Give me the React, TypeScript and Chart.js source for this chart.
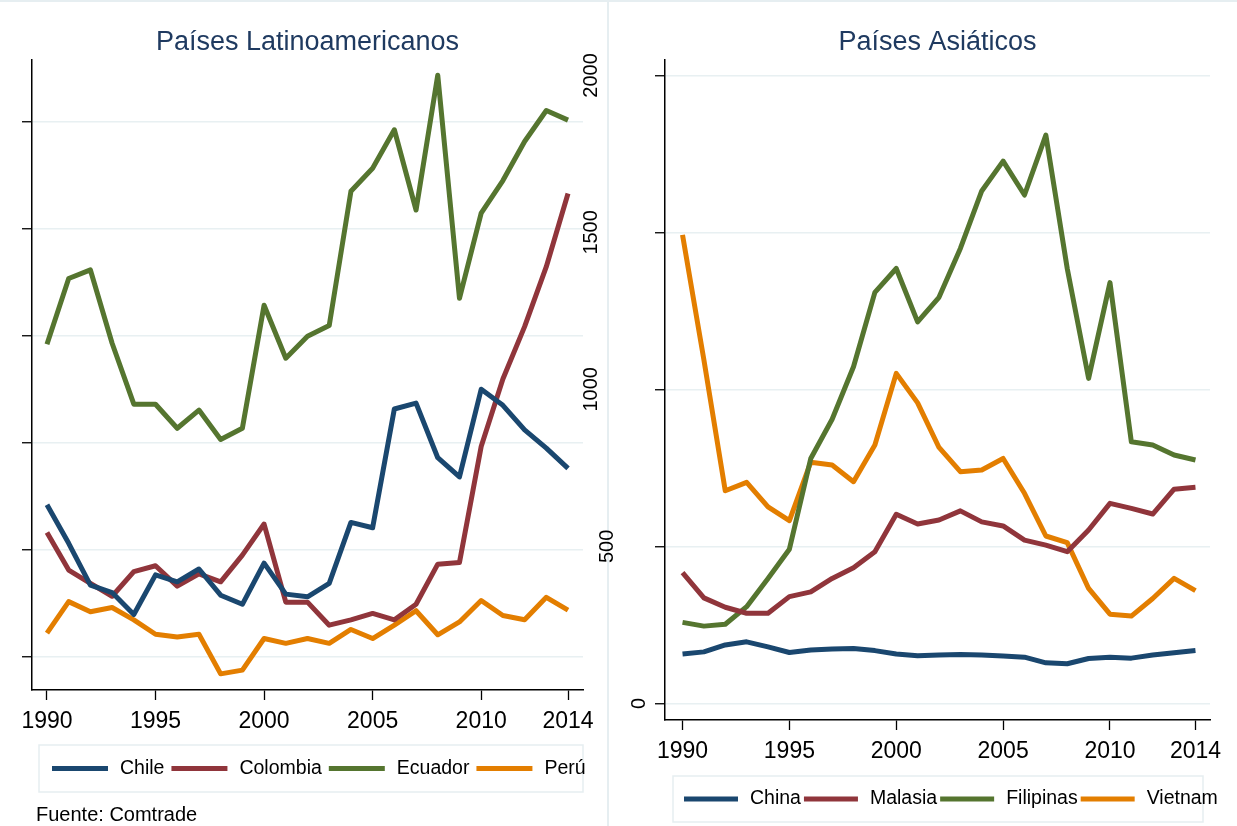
import React, { useEffect, useRef } from "react";
import { Chart, registerables } from "chart.js";

Chart.register(...registerables);

// ---------------- DATA ----------------
const years = [
  1990, 1991, 1992, 1993, 1994, 1995, 1996, 1997, 1998, 1999, 2000, 2001, 2002,
  2003, 2004, 2005, 2006, 2007, 2008, 2009, 2010, 2011, 2012, 2013, 2014,
];

// Países Latinoamericanos (left panel, unlabeled axis)
const chile = [484, 412, 334, 320, 279, 353, 340, 364, 315, 298, 375, 317, 312, 337, 451, 441, 663, 674, 572, 536, 700, 670, 624, 590, 552];
const colombia = [432, 362, 337, 313, 359, 370, 332, 355, 340, 390, 448, 302, 302, 259, 269, 281, 269, 298, 373, 376, 593, 719, 817, 929, 1066];
const ecuador = [784, 907, 923, 786, 672, 672, 627, 661, 606, 627, 857, 758, 799, 819, 1070, 1113, 1185, 1035, 1287, 870, 1029, 1090, 1163, 1221, 1203];
const peru = [244, 303, 284, 292, 269, 242, 237, 242, 168, 175, 234, 225, 234, 225, 251, 234, 259, 286, 241, 265, 305, 277, 269, 311, 287];

// Países Asiáticos (right panel)
const china = [157, 164, 186, 196, 180, 162, 170, 173, 175, 168, 157, 152, 154, 156, 154, 151, 147, 129, 126, 143, 147, 144, 154, 161, 168];
const malasia = [416, 336, 306, 287, 287, 340, 355, 398, 432, 483, 602, 571, 584, 613, 578, 565, 520, 504, 483, 552, 637, 621, 603, 682, 688];
const filipinas = [258, 246, 252, 308, 398, 491, 780, 905, 1072, 1309, 1385, 1215, 1293, 1449, 1632, 1727, 1619, 1810, 1385, 1035, 1340, 833, 823, 791, 775];
const vietnam = [1492, 1094, 677, 704, 626, 582, 768, 759, 706, 823, 1051, 957, 815, 738, 743, 780, 669, 533, 512, 366, 284, 278, 334, 398, 359];

const xTickYears = [1990, 1995, 2000, 2005, 2010, 2014];
const latamYTicks = [200, 400, 600, 800, 1000, 1200];
const asiaYTicks = [0, 500, 1000, 1500, 2000];

const latamNames = ["Chile", "Colombia", "Ecuador", "Perú"];
const asiaNames = ["China", "Malasia", "Filipinas", "Vietnam"];
const latamTitle = "Países Latinoamericanos";
const asiaTitle = "Países Asiáticos";
const sourceNote = "Fuente: Comtrade";

// ---------------- STYLE ----------------
const COLORS = ["#1a476f", "#90353b", "#55752f", "#e37e00"];
const FONT = '"Liberation Sans", Arial, Helvetica, sans-serif';
const TITLE_COLOR = "#1f3a60";
const GRID_COLOR = "#e8f0f2";
const FRAME_COLOR = "#e6eef1";

type PanelSpec = {
  names: string[];
  series: number[][];
  yTicks: number[];
  yMin: number;
  yMax: number;
  xMin: number;
  xMax: number;
  title: string;
  left: number;
  width: number;
  padding: { left: number; right: number; top: number; bottom: number };
  yWidth: number;
  legendBox: { x: number; y: number; w: number; h: number };
  legendInset: number;
  legendSwatch: number;
  legendGap: number;
  showYLabels: boolean;
  note?: { text: string; x: number; y: number };
};

function makeDecorPlugin(spec: PanelSpec) {
  return {
    id: "decor",
    afterDraw(chart: any) {
      const ctx = chart.ctx as CanvasRenderingContext2D;
      ctx.save();
      // legend frame
      const b = spec.legendBox;
      ctx.strokeStyle = FRAME_COLOR;
      ctx.lineWidth = 1.5;
      ctx.strokeRect(b.x, b.y, b.w, b.h);
      const cy = b.y + b.h / 2;
      ctx.font = `19.5px ${FONT}`;
      ctx.textBaseline = "middle";
      ctx.textAlign = "left";
      let x = b.x + spec.legendInset;
      chart.data.datasets.forEach((ds: any) => {
        ctx.strokeStyle = ds.borderColor;
        ctx.lineWidth = 5;
        ctx.lineCap = "butt";
        ctx.beginPath();
        ctx.moveTo(x, cy);
        ctx.lineTo(x + spec.legendSwatch, cy);
        ctx.stroke();
        x += spec.legendSwatch + 12;
        ctx.fillStyle = "#000";
        ctx.fillText(ds.label, x, cy);
        x += ctx.measureText(ds.label).width + spec.legendGap;
      });

      // rotated y labels
      if (spec.showYLabels) {
        const yScale = chart.scales.y;
        const axisX = chart.chartArea.left;
        ctx.font = `20px ${FONT}`;
        ctx.fillStyle = "#000";
        ctx.textAlign = "center";
        ctx.textBaseline = "alphabetic";
        yScale.ticks.forEach((t: any) => {
          const label = String(t.value);
          const w = ctx.measureText(label).width;
          const py = yScale.getPixelForValue(t.value);
          const bx = axisX - 4 - 1.44 * w;
          ctx.save();
          ctx.translate(bx, py);
          ctx.rotate(-Math.PI / 2);
          ctx.fillText(label, 0, 0);
          ctx.restore();
        });
      }

      if (spec.note) {
        ctx.font = `20px ${FONT}`;
        ctx.fillStyle = "#000";
        ctx.textAlign = "left";
        ctx.textBaseline = "middle";
        ctx.fillText(spec.note.text, spec.note.x, spec.note.y);
      }
      ctx.restore();
    },
  };
}

function Panel({ spec }: { spec: PanelSpec }) {
  const ref = useRef<HTMLCanvasElement | null>(null);
  useEffect(() => {
    if (!ref.current) return;
    const chart = new Chart(ref.current, {
      type: "line",
      data: {
        datasets: spec.series.map((s, i) => ({
          label: spec.names[i],
          data: years.map((yr, j) => ({ x: yr, y: s[j] })),
          borderColor: COLORS[i],
          backgroundColor: COLORS[i],
          borderWidth: 5,
          pointRadius: 0,
          pointHoverRadius: 0,
          borderJoinStyle: "round",
          tension: 0,
          fill: false,
        })),
      },
      options: {
        responsive: false,
        animation: false,
        devicePixelRatio: 1,
        events: [],
        layout: { padding: spec.padding },
        plugins: {
          legend: { display: false },
          tooltip: { enabled: false },
          title: {
            display: true,
            text: spec.title,
            color: TITLE_COLOR,
            font: { family: FONT, size: 27, weight: "normal", lineHeight: "30px" },
            padding: { top: 28, bottom: 2 },
            fullSize: false,
          },
        },
        scales: {
          x: {
            type: "linear",
            min: spec.xMin,
            max: spec.xMax,
            afterBuildTicks: (s: any) => {
              s.ticks = xTickYears.map((v) => ({ value: v }));
            },
            afterFit: (s: any) => {
              s.height = 40;
            },
            grid: {
              drawOnChartArea: false,
              drawTicks: true,
              tickLength: 10,
              tickColor: "#000",
              tickWidth: 1.3,
            },
            border: { display: true, color: "#000", width: 1.5 },
            ticks: {
              autoSkip: false,
              maxRotation: 0,
              minRotation: 0,
              padding: 8,
              color: "#000",
              font: { family: FONT, size: 23 },
              callback: (v: any) => String(v),
            },
          },
          y: {
            type: "linear",
            min: spec.yMin,
            max: spec.yMax,
            afterBuildTicks: (s: any) => {
              s.ticks = spec.yTicks.map((v) => ({ value: v }));
            },
            afterFit: (s: any) => {
              s.width = spec.yWidth;
            },
            grid: {
              color: GRID_COLOR,
              lineWidth: 1.5,
              drawTicks: true,
              tickLength: 10,
              tickColor: "#000",
              tickWidth: 1.3,
            },
            border: { display: true, color: "#000", width: 1.5 },
            ticks: { display: false },
          },
        },
      } as any,
      plugins: [makeDecorPlugin(spec)],
    });
    return () => chart.destroy();
  }, [spec]);

  return (
    <canvas
      ref={ref}
      width={spec.width}
      height={826}
      style={{ position: "absolute", left: spec.left, top: 0, width: spec.width, height: 826, display: "block" }}
    />
  );
}

const latamSpec: PanelSpec = {
  names: latamNames,
  series: [chile, colombia, ecuador, peru],
  yTicks: latamYTicks,
  yMin: 137.8,
  yMax: 1315.4,
  xMin: 1989.31,
  xMax: 2014.69,
  title: latamTitle,
  left: 0,
  width: 609,
  padding: { left: 0, right: 26, top: 0, bottom: 96 },
  yWidth: 32,
  legendBox: { x: 39, y: 745, w: 544, h: 47 },
  legendInset: 13,
  legendSwatch: 56,
  legendGap: 7,
  showYLabels: false,
  note: { text: sourceNote, x: 36, y: 815 },
};

const asiaSpec: PanelSpec = {
  names: asiaNames,
  series: [china, malasia, filipinas, vietnam],
  yTicks: asiaYTicks,
  yMin: -53,
  yMax: 2049,
  xMin: 1989.18,
  xMax: 2014.68,
  title: asiaTitle,
  left: 560,
  width: 677,
  padding: { left: 95, right: 27, top: 0, bottom: 66 },
  yWidth: 10,
  legendBox: { x: 113, y: 776, w: 530, h: 46 },
  legendInset: 11,
  legendSwatch: 54,
  legendGap: 3,
  showYLabels: true,
};

export default function App() {
  return (
    <div
      style={{
        position: "absolute",
        left: 0,
        top: 0,
        width: 1237,
        height: 826,
        background: "#fff",
        overflow: "hidden",
      }}
    >
      <div style={{ position: "absolute", left: 0, top: 0, width: 1237, height: 2, background: FRAME_COLOR }} />
      <div style={{ position: "absolute", left: 607, top: 0, width: 2, height: 826, background: FRAME_COLOR }} />
      <Panel spec={latamSpec} />
      <Panel spec={asiaSpec} />
    </div>
  );
}
